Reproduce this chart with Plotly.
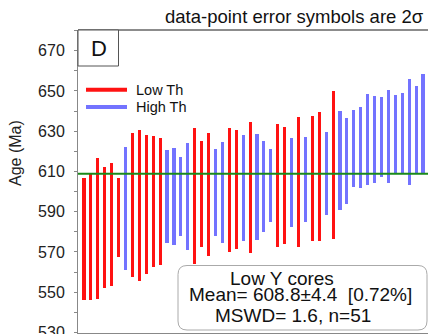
import plotly.graph_objects as go

# ── data ─────────────────────────────────────────────────────────────────────
# grain index, lower / upper end of the 2-sigma age bar (Ma), Th group
grain = list(range(1, 51))
age_lo = [546.3, 546.0, 546.8, 552.1, 553.3, 567.7, 560.9, 557.3, 555.4, 558.8,
          562.4, 563.6, 574.2, 573.2, 577.8, 570.8, 563.9, 572.5, 568.2, 577.8,
          574.5, 570.2, 571.7, 575.3, 569.5, 575.7, 580.1, 584.8, 572.2, 573.7,
          582.5, 572.3, 585.1, 575.5, 575.2, 588.3, 576.5, 590.8, 593.6, 602.4,
          601.9, 603.5, 604.2, 607.0, 604.2, 608.7, 608.7, 603.4, 608.7, 608.7]
age_hi = [606.9, 609.4, 616.5, 612.1, 614.3, 606.5, 622.1, 628.9, 630.4, 628.1,
          627.6, 626.4, 620.6, 621.6, 617.0, 624.3, 631.4, 624.9, 629.2, 621.3,
          624.8, 631.4, 630.4, 628.1, 634.7, 628.6, 624.9, 621.3, 633.7, 632.2,
          626.8, 637.0, 627.3, 637.7, 639.5, 629.6, 650.0, 639.9, 636.5, 640.3,
          641.8, 648.5, 647.7, 646.8, 650.4, 648.0, 649.0, 656.1, 652.6, 658.4]
th_group = list("RRRRRRBRRRRRBBBBRRRBBRRBRBBBRRBRBRRBRBBBBBBBBBBBBB")

mean_age = 608.8
y_ticks = [530, 550, 570, 590, 610, 630, 650, 670]
legend_labels = ["Low Th", "High Th"]
box_lines = ["Low Y cores", "Mean= 608.8±4.4  [0.72%]", "MSWD= 1.6, n=51"]
title_text = "data-point error symbols are 2σ"

RED = "#FF1212"
BLUE = "#7373FF"
FONT = "Liberation Sans, Arial, sans-serif"

# page geometry (pixels) -------------------------------------------------------
W, H = 428, 334
L, T, B = 78, 30, 1
PW, PH = W - L, H - T - B


def px(x):
    return (x - L) / PW


def py(y):
    return (H - B - y) / PH


def rounded_box(x0, y0, x1, y1, r):
    # rounded rectangle path in paper coordinates, from pixel corners
    pts = []
    pts.append(f"M {px(x0 + r)},{py(y0)}")
    pts.append(f"L {px(x1 - r)},{py(y0)}")
    pts.append(f"Q {px(x1)},{py(y0)} {px(x1)},{py(y0 + r)}")
    pts.append(f"L {px(x1)},{py(y1 - r)}")
    pts.append(f"Q {px(x1)},{py(y1)} {px(x1 - r)},{py(y1)}")
    pts.append(f"L {px(x0 + r)},{py(y1)}")
    pts.append(f"Q {px(x0)},{py(y1)} {px(x0)},{py(y1 - r)}")
    pts.append(f"L {px(x0)},{py(y0 + r)}")
    pts.append(f"Q {px(x0)},{py(y0)} {px(x0 + r)},{py(y0)}")
    return " ".join(pts) + " Z"


colors = [RED if g == "R" else BLUE for g in th_group]

fig = go.Figure()
fig.add_trace(go.Bar(
    x=grain,
    y=[h - l for l, h in zip(age_lo, age_hi)],
    base=age_lo,
    width=0.45,
    marker=dict(color=colors, line=dict(width=0)),
    showlegend=False,
    hoverinfo="skip",
))

shapes = [
    # weighted mean line
    dict(type="line", xref="paper", yref="y", x0=0, x1=1, y0=mean_age, y1=mean_age,
         line=dict(color="#1A8A1A", width=2), layer="above"),
    # top frame line
    dict(type="line", xref="paper", yref="paper", x0=0, x1=1, y0=1, y1=1,
         line=dict(color="#666", width=1.5), layer="above"),
    # panel letter box
    dict(type="rect", xref="paper", yref="paper", x0=px(78), x1=px(118.5), y0=py(30), y1=py(66),
         line=dict(color="#555", width=1), fillcolor="white", layer="above"),
    # statistics box
    dict(type="path", xref="paper", yref="paper", path=rounded_box(178, 265.5, 427, 330, 9),
         line=dict(color="#AAAAAA", width=1), fillcolor="white", layer="above"),
    # legend swatches
    dict(type="line", xref="paper", yref="paper", x0=px(86), x1=px(127), y0=py(89.7), y1=py(89.7),
         line=dict(color=RED, width=4), layer="above"),
    dict(type="line", xref="paper", yref="paper", x0=px(86), x1=px(127), y0=py(107), y1=py(107),
         line=dict(color=BLUE, width=4), layer="above"),
]

annotations = [
    dict(text="D", x=px(98.5), y=py(49), font=dict(size=22, color="#111")),
    dict(text=title_text, x=px(294), y=py(16), font=dict(size=18.5, color="#111")),
    dict(text="Age (Ma)", x=px(15), y=py(153), textangle=-90, font=dict(size=16, color="#222")),
    dict(text=legend_labels[0], x=px(134), y=py(89.7), xanchor="left", font=dict(size=14.5, color="#111")),
    dict(text=legend_labels[1], x=px(134), y=py(107), xanchor="left", font=dict(size=14.5, color="#111")),
    dict(text=box_lines[0], x=px(281.5), y=py(278), font=dict(size=19, color="#111")),
    dict(text=box_lines[1], x=px(300.5), y=py(294.5), font=dict(size=19, color="#111")),
    dict(text=box_lines[2], x=px(292.5), y=py(315.5), font=dict(size=19, color="#111")),
]
for a in annotations:
    a.update(xref="paper", yref="paper", showarrow=False)
    a.setdefault("xanchor", "center")
    a["yanchor"] = "middle"
    a["font"]["family"] = FONT

fig.update_layout(
    width=W, height=H,
    margin=dict(l=L, r=0, t=T, b=B, pad=0),
    paper_bgcolor="white", plot_bgcolor="white",
    font=dict(family=FONT, color="#222"),
    showlegend=False,
    shapes=shapes,
    annotations=annotations,
    bargap=0,
)
fig.update_xaxes(
    range=[0.13, 50.72], showgrid=False, zeroline=False,
    showticklabels=False, ticks="", automargin=False,
    showline=True, linecolor="#888", linewidth=1, mirror=False,
)
fig.update_yaxes(
    range=[529.7, 680.3], showgrid=False, zeroline=False, automargin=False,
    tickvals=y_ticks, ticks="outside", ticklen=3, tickcolor="#888",
    tickfont=dict(size=16, color="#222", family=FONT),
    ticklabelstandoff=6, ticklabeloverflow="allow",
    minor=dict(dtick=10, tick0=530, ticks="outside", ticklen=3, tickcolor="#888"),
    showline=True, linecolor="#888", linewidth=1,
)

# the page's default 8px body margin would shift the whole figure
fig.write_html("out.html", config={"displayModeBar": False},
               post_script="document.body.style.margin='0';")
